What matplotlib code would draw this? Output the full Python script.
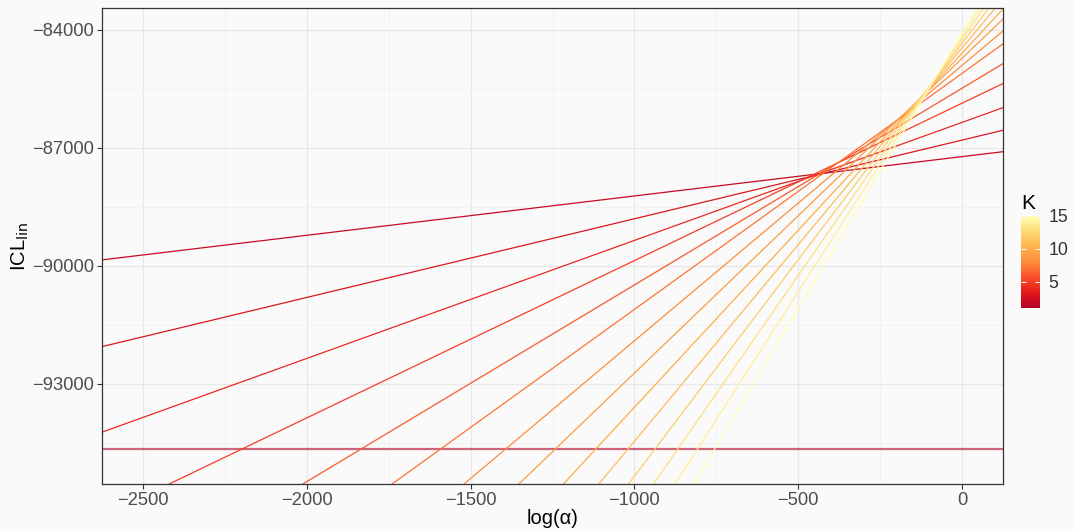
import numpy as np
import matplotlib
matplotlib.use("Agg")
import matplotlib.pyplot as plt
from matplotlib.colors import LinearSegmentedColormap, Normalize
from matplotlib.ticker import MultipleLocator
import matplotlib as mpl

plt.rcParams['font.family'] = ['Liberation Sans', 'DejaVu Sans']

# number of clusters K, slope (K-1) and intercept at log(alpha)=0
K = np.arange(1, 16)
slope = K - 1
intercept = [-94652, -87228, -86808, -86358, -85870, -85490, -85112, -84910,
             -84730, -84600, -84465, -84350, -84250, -84163, -84090]

x_ticks = [-2500, -2000, -1500, -1000, -500, 0]
y_ticks = [-84000, -87000, -90000, -93000]

# YlOrRd (distiller style), low K = dark red
pal = ["#B10026", "#E31A1C", "#FC4E2A", "#FD8D3C", "#FEB24C", "#FED976", "#FFFFB2"]
cmap = LinearSegmentedColormap.from_list("ylorrd_r", pal)
norm = Normalize(vmin=K.min(), vmax=K.max())

bg = "#fafafa"
fig = plt.figure(figsize=(10.74, 5.31), dpi=100, facecolor=bg)
ax = fig.add_axes([102/1074, 1 - 484/531, 901/1074, 476/531])
ax.set_facecolor(bg)

for k, s, c in zip(K, slope, intercept):
    if k == 1:
        ax.axline((0, c), slope=s, color=cmap(norm(k)), lw=1.6, alpha=0.6)
    else:
        ax.axline((0, c), slope=s, color=cmap(norm(k)), lw=0.9)

ax.set_xlim(-2625, 125)
ax.set_ylim(-95550, -83450)
ax.set_xticks(x_ticks)
ax.set_yticks(y_ticks)
ax.set_xticklabels([f"{v:d}".replace("-", "\u2212") for v in x_ticks])
ax.set_yticklabels([f"{v:d}".replace("-", "\u2212") for v in y_ticks])
ax.xaxis.set_minor_locator(MultipleLocator(250))
ax.yaxis.set_minor_locator(MultipleLocator(1500))
ax.grid(which='major', color='#e8e8e8', lw=0.9, zorder=0)
ax.grid(which='minor', color='#efefef', lw=0.5, zorder=0)
ax.set_axisbelow(True)
ax.tick_params(which='major', length=3.5, width=0.8, color='#333333',
               labelsize=13.2, labelcolor='#4d4d4d', pad=2)
ax.tick_params(which='minor', length=0)
for sp in ax.spines.values():
    sp.set_color('#333333')
    sp.set_linewidth(0.9)

ax.set_xlabel("log(\u03b1)", fontsize=14.5, labelpad=0)
ax.set_ylabel("ICL$_{\\mathrm{lin}}$", fontsize=14.5, labelpad=1)

# colour bar legend
cax = fig.add_axes([1021/1074, 1 - 308/531, 19/1074, 92/531])
cb = mpl.colorbar.ColorbarBase(cax, cmap=cmap, norm=norm, ticks=[5, 10, 15])
cb.outline.set_visible(False)
cax.yaxis.set_ticks_position('both')
cax.tick_params(direction='in', color='#f5f5f5', length=3.5, width=0.8,
                labelsize=12.8, labelcolor='#333333', pad=6)
cax.yaxis.set_tick_params(labelleft=False, labelright=True)
cax.set_title("K", fontsize=15, loc='left', pad=5)

fig.savefig("out.png", dpi=100, facecolor=bg)
